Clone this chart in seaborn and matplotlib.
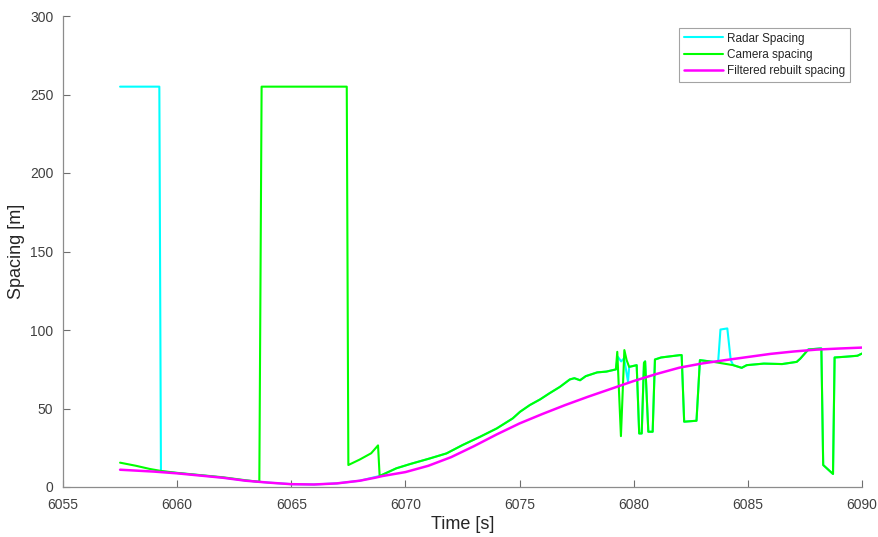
import matplotlib
matplotlib.use("Agg")
import matplotlib.pyplot as plt
import seaborn as sns
import pandas as pd

# ---- data ----
filtered_t = [6057.5, 6058, 6059, 6060, 6061, 6062, 6063, 6064, 6065, 6066, 6067, 6068,
              6068.7, 6069, 6070, 6071, 6072, 6073, 6074, 6075, 6076, 6077, 6078, 6079,
              6080, 6081, 6082, 6083, 6084, 6085, 6086, 6087, 6088, 6089, 6090]
filtered_v = [11.0, 10.6, 9.8, 8.7, 7.3, 5.9, 4.0, 2.8, 1.8, 1.6, 2.3, 4.0,
              6.0, 7.0, 9.5, 13.5, 19.0, 26.0, 33.5, 40.5, 46.5, 52.2, 57.5, 62.5,
              67.5, 72.0, 76.0, 78.7, 80.8, 82.8, 84.8, 86.3, 87.5, 88.2, 88.8]

camera_t = [6057.5, 6058.2, 6058.8, 6059.3, 6060, 6061, 6062, 6063, 6063.6, 6063.7,
            6067.43, 6067.5, 6068.0, 6068.5, 6068.8, 6068.87, 6069.6, 6070.2, 6071.07,
            6071.8, 6072.5, 6073.27, 6074.0, 6074.7, 6075.02, 6075.45, 6075.9, 6076.3,
            6076.77, 6077.2, 6077.4, 6077.65, 6077.9, 6078.4, 6078.8, 6079.22, 6079.28,
            6079.44, 6079.59, 6079.69, 6079.8, 6080.13, 6080.24, 6080.35, 6080.45,
            6080.5, 6080.64, 6080.83, 6080.93, 6081.2, 6082.03, 6082.1, 6082.21, 6082.75,
            6082.9, 6083.49, 6083.78, 6084.36, 6084.73, 6084.95, 6085.7, 6086.5, 6087.14,
            6087.3, 6087.65, 6088.15, 6088.22, 6088.3, 6088.73, 6088.8, 6089.3, 6089.8, 6090]
camera_v = [15.5, 13.5, 11.5, 10.2, 9.0, 7.6, 6.2, 4.3, 3.3, 255,
            255, 14.0, 17.5, 21.5, 26.5, 7.0, 11.9, 14.6, 18.2,
            21.4, 26.7, 32.0, 37.3, 43.7, 47.9, 52.2, 55.8, 59.6,
            63.8, 68.5, 69.3, 68.0, 70.6, 73.0, 73.5, 74.9, 86.1,
            32.4, 87.2, 80.8, 76.5, 77.6, 34.1, 34.1, 79.1,
            80.0, 35.2, 35.2, 81.2, 82.5, 84.0, 84.0, 41.6, 42.2,
            80.8, 79.7, 79.0, 77.6, 75.9, 77.6, 78.6, 78.3, 79.7,
            81.8, 87.6, 88.2, 88.2, 14.0, 8.3, 82.5, 83.0, 83.6, 85.0]

radar_t = [6057.5, 6059.22, 6059.29, 6060, 6061, 6062, 6063, 6064, 6065, 6066, 6067, 6068,
           6068.87, 6069.6, 6070.2, 6071.07, 6071.8, 6072.5, 6073.27, 6074.0, 6074.7,
           6075.02, 6075.45, 6075.9, 6076.3, 6076.77, 6077.2, 6077.4, 6077.65, 6077.9,
           6078.4, 6078.8, 6079.22, 6079.3, 6079.45, 6079.58, 6079.75, 6079.8, 6080.13,
           6080.24, 6080.35, 6080.45, 6080.5, 6080.64, 6080.83, 6080.93, 6081.2, 6082.03,
           6082.1, 6082.21, 6082.75, 6082.9, 6083.49, 6083.7, 6083.8, 6084.1, 6084.25,
           6084.36, 6084.73, 6084.95, 6085.7, 6086.5, 6087.14, 6087.3, 6087.65, 6088.15,
           6088.22, 6088.3, 6088.73, 6088.8, 6089.3, 6089.8, 6090]
radar_v = [255, 255, 10.0, 8.9, 7.5, 6.0, 4.1, 2.8, 1.8, 1.6, 2.3, 4.0,
           7.0, 11.9, 14.6, 18.2, 21.4, 26.7, 32.0, 37.3, 43.7,
           47.9, 52.2, 55.8, 59.6, 63.8, 68.5, 69.3, 68.0, 70.6,
           73.0, 73.5, 74.9, 83.0, 80.0, 82.0, 67.0, 76.5, 77.6,
           34.1, 34.1, 79.1, 80.0, 35.2, 35.2, 81.2, 82.5, 84.0,
           84.0, 41.6, 42.2, 80.8, 79.7, 80.0, 100.3, 101.0, 80.8,
           77.6, 75.9, 77.6, 78.6, 78.3, 79.7, 81.8, 87.6, 88.2,
           88.2, 14.0, 8.3, 82.5, 83.0, 83.6, 85.0]

x_ticks = [6055, 6060, 6065, 6070, 6075, 6080, 6085, 6090]
y_ticks = [0, 50, 100, 150, 200, 250, 300]

# ---- plotting ----
sns.set_style("white")
plt.rcParams['font.family'] = ['Liberation Sans', 'DejaVu Sans']

fig = plt.figure(figsize=(8.79, 5.37), dpi=100)
ax = fig.add_axes([63 / 879, 50 / 537, (862 - 63) / 879, (487 - 16) / 537])

radar = pd.DataFrame({"t": radar_t, "v": radar_v})
camera = pd.DataFrame({"t": camera_t, "v": camera_v})
filt = pd.DataFrame({"t": filtered_t, "v": filtered_v})

sns.lineplot(data=radar, x="t", y="v", ax=ax, color="#00FFFF", lw=1.5,
             estimator=None, sort=False, label="Radar Spacing")
sns.lineplot(data=camera, x="t", y="v", ax=ax, color="#00FF00", lw=1.5,
             estimator=None, sort=False, label="Camera spacing")
sns.lineplot(data=filt, x="t", y="v", ax=ax, color="#FF00FF", lw=1.8,
             estimator=None, sort=False, label="Filtered rebuilt spacing")

ax.set_xlim(6055, 6090)
ax.set_ylim(0, 300)
ax.set_xticks(x_ticks)
ax.set_yticks(y_ticks)
ax.set_xlabel("Time [s]", fontsize=13, color="#262626", labelpad=3)
ax.set_ylabel("Spacing [m]", fontsize=13, color="#262626")
ax.yaxis.set_label_coords(-0.047, 0.5)

for side in ["top", "right"]:
    ax.spines[side].set_visible(False)
for side in ["left", "bottom"]:
    ax.spines[side].set_color("#8c8c8c")
    ax.spines[side].set_linewidth(0.9)
ax.tick_params(direction="in", length=5, width=0.8, color="#6e6e6e",
               labelsize=10, labelcolor="#404040",
               bottom=True, left=True, top=False, right=False)
ax.tick_params(axis="x", pad=8)
ax.tick_params(axis="y", pad=7)

leg = ax.legend(loc="upper right", fontsize=8.5, frameon=True, fancybox=False,
                edgecolor="#8c8c8c", handlelength=3.3, labelspacing=0.35,
                borderaxespad=1.0, borderpad=0.4, handletextpad=0.4)
leg.get_frame().set_linewidth(0.8)

fig.savefig("out.png", dpi=100, facecolor="white")
